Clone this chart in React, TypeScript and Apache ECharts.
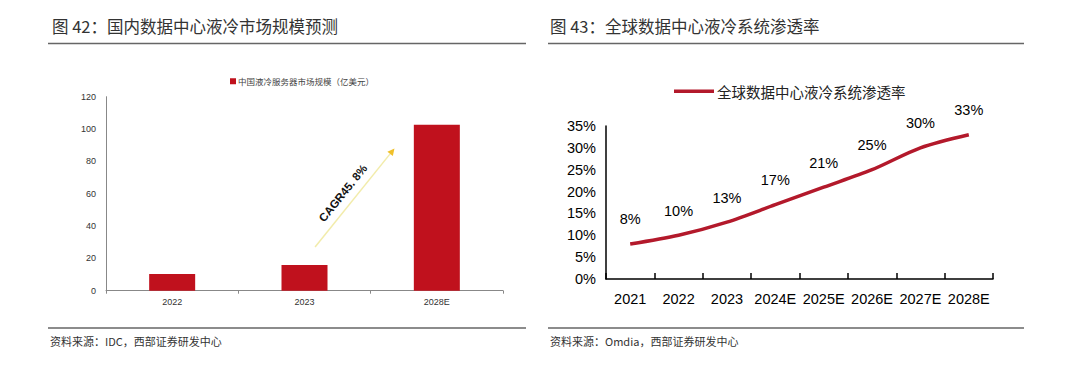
import React, { useEffect, useRef } from "react";
import * as echarts from "echarts";

const barCategories = ["2022", "2023", "2028E"];
const barValues = [10.3, 15.9, 102.6];
const barSeriesName = "中国液冷服务器市场规模（亿美元）";
const cagrText = "CAGR45. 8%";
// arrow annotation: [category position, value] for start and end
const cagrStart = [1.08, 27];
const cagrEnd = [1.68, 88];

const lineCategories = ["2021", "2022", "2023", "2024E", "2025E", "2026E", "2027E", "2028E"];
const lineValues = [8, 10, 13, 17, 21, 25, 30, 33];
const lineSeriesName = "全球数据中心液冷系统渗透率";

const leftTitle = "图 42：国内数据中心液冷市场规模预测";
const rightTitle = "图 43：全球数据中心液冷系统渗透率";
const leftSource = "资料来源：IDC，西部证券研发中心";
const rightSource = "资料来源：Omdia，西部证券研发中心";

const CJK = '"Noto Sans CJK SC", "Liberation Sans", sans-serif';
const LAT = '"Liberation Sans", Arial, sans-serif';
const NARROW = '"Liberation Sans Narrow", "Liberation Sans", Arial, sans-serif';

export default function App() {
  const ref = useRef<HTMLDivElement>(null);
  useEffect(() => {
    document.body.style.margin = "0";
    const chart = echarts.init(ref.current!, undefined, { renderer: "svg" });
    const staticGraphic = [
      { type: "text", left: 52, top: 18, style: { text: leftTitle, fontSize: 16.5, fill: "#333", fontFamily: CJK } },
      { type: "text", left: 550, top: 18, style: { text: rightTitle, fontSize: 16.5, fill: "#333", fontFamily: CJK } },
      { type: "line", shape: { x1: 48, y1: 43.5, x2: 526, y2: 43.5 }, style: { stroke: "#666", lineWidth: 1.5 } },
      { type: "line", shape: { x1: 548, y1: 43.5, x2: 1024, y2: 43.5 }, style: { stroke: "#666", lineWidth: 1.5 } },
      { type: "line", shape: { x1: 48, y1: 328, x2: 526, y2: 328 }, style: { stroke: "#666", lineWidth: 1.5 } },
      { type: "line", shape: { x1: 548, y1: 328, x2: 1024, y2: 328 }, style: { stroke: "#666", lineWidth: 1.5 } },
      { type: "text", left: 50, top: 335, style: { text: leftSource, fontSize: 11, fill: "#333", fontFamily: CJK } },
      { type: "text", left: 550, top: 335, style: { text: rightSource, fontSize: 11, fill: "#333", fontFamily: CJK } },
    ];
    chart.setOption({
      animation: false,
      backgroundColor: "#fff",
      legend: [
        {
          data: [barSeriesName],
          left: 225,
          top: 72,
          icon: "rect",
          itemWidth: 6,
          itemHeight: 6,
          itemGap: 2,
          textStyle: { fontSize: 8.5, color: "#444", fontFamily: CJK, padding: [0, 0, 0, -3] },
        },
        {
          data: [lineSeriesName],
          left: 669,
          top: 79,
          icon: "rect",
          itemWidth: 40,
          itemHeight: 3.5,
          textStyle: { fontSize: 14.5, color: "#222", fontFamily: CJK, padding: [0, 0, 0, -2] },
        },
      ],
      grid: [
        { left: 106, right: 577, top: 96.7, bottom: 83.3 },
        { left: 606, right: 87, top: 126, bottom: 95 },
      ],
      xAxis: [
        {
          gridIndex: 0,
          type: "category",
          data: barCategories,
          axisLine: { lineStyle: { color: "#888", width: 1 } },
          axisTick: { show: true, length: 3, lineStyle: { color: "#888" } },
          axisLabel: { fontSize: 9, color: "#333", fontFamily: LAT, margin: 7 },
        },
        {
          gridIndex: 1,
          type: "category",
          data: lineCategories,
          axisLine: { lineStyle: { color: "#000", width: 1.5 } },
          axisTick: { show: true, inside: true, length: 6, interval: 0, lineStyle: { color: "#000", width: 1.5 } },
          axisLabel: { interval: 0, fontSize: 14.5, color: "#000", fontFamily: LAT, margin: 12 },
        },
      ],
      yAxis: [
        {
          gridIndex: 0,
          type: "value",
          min: 0,
          max: 120,
          interval: 20,
          axisLine: { show: true, lineStyle: { color: "#888", width: 1 } },
          axisTick: { show: false },
          splitLine: { show: false },
          axisLabel: { fontSize: 9, color: "#333", fontFamily: LAT, margin: 10 },
        },
        {
          gridIndex: 1,
          type: "value",
          min: 0,
          max: 35,
          interval: 5,
          axisLine: { show: true, lineStyle: { color: "#000", width: 1.5 } },
          axisTick: { show: false },
          splitLine: { show: false },
          axisLabel: { fontSize: 14.5, color: "#000", fontFamily: LAT, margin: 10, formatter: "{value}%" },
        },
      ],
      series: [
        {
          name: barSeriesName,
          type: "bar",
          xAxisIndex: 0,
          yAxisIndex: 0,
          data: barValues,
          barWidth: 46,
          itemStyle: { color: "#c0111d" },
        },
        {
          name: lineSeriesName,
          type: "line",
          xAxisIndex: 1,
          yAxisIndex: 1,
          data: lineValues,
          smooth: 0.3,
          symbol: "circle",
          symbolSize: 0.1,
          showAllSymbol: true,
          itemStyle: { color: "#b3192b" },
          lineStyle: { color: "#b3192b", width: 3.5 },
          label: {
            show: true,
            position: "top",
            distance: 17,
            formatter: "{c}%",
            fontSize: 14.5,
            color: "#000",
            fontFamily: LAT,
          },
        },
      ],
      graphic: staticGraphic,
    });

    // CAGR arrow, positioned through the chart's own scales
    const finder = { xAxisIndex: 0, yAxisIndex: 0 };
    const i0 = Math.floor(cagrStart[0]);
    const a = chart.convertToPixel(finder, [i0, cagrStart[1]]) as number[];
    const b = chart.convertToPixel(finder, [i0 + 1, cagrEnd[1]]) as number[];
    const band = b[0] - a[0];
    const x0 = a[0] + (cagrStart[0] - i0) * band;
    const y0 = a[1];
    const x1 = a[0] + (cagrEnd[0] - i0) * band;
    const y1 = b[1];
    const dx = x1 - x0;
    const dy = y1 - y0;
    const len = Math.sqrt(dx * dx + dy * dy);
    const ux = dx / len;
    const uy = dy / len;
    const px = uy;
    const py = -ux;
    const head = 7;
    const hw = 3.5;
    const bx = x1 - ux * head;
    const by = y1 - uy * head;
    const mx = x0 + dx * 0.47 + px * 12;
    const my = y0 + dy * 0.47 + py * 12;
    const angle = Math.atan2(-dy, dx);

    chart.setOption({
      graphic: [
        ...staticGraphic,
        {
          type: "line",
          shape: { x1: x0, y1: y0, x2: bx, y2: by },
          style: { stroke: "#f2ecab", lineWidth: 1.5 },
        },
        {
          type: "polygon",
          shape: {
            points: [
              [x1, y1],
              [bx + px * hw, by + py * hw],
              [bx - px * hw, by - py * hw],
            ],
          },
          style: { fill: "#f0c02a" },
        },
        {
          type: "text",
          x: mx,
          y: my,
          rotation: angle,
          style: {
            text: cagrText,
            fontSize: 11.5,
            fontWeight: "bold",
            fill: "#111",
            fontFamily: NARROW,
            align: "center",
            verticalAlign: "middle",
          },
        },
      ],
    });
    return () => chart.dispose();
  }, []);
  return <div ref={ref} style={{ width: 1080, height: 374 }} />;
}
